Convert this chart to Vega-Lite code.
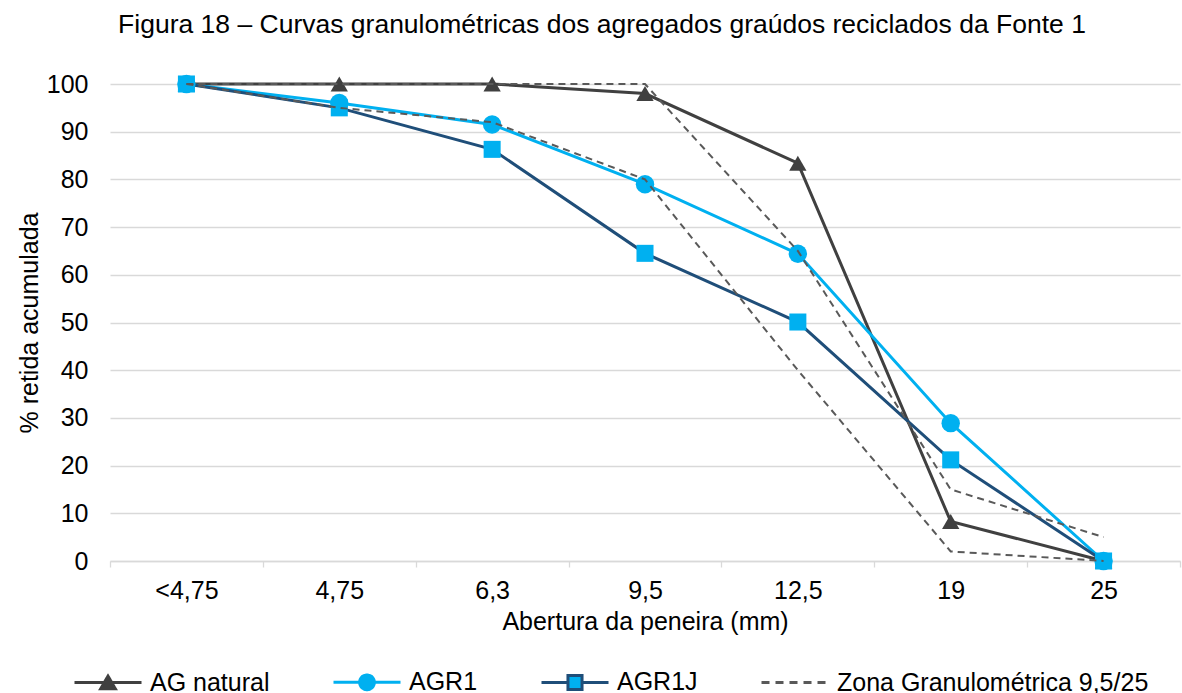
{
  "$schema": "https://vega.github.io/schema/vega-lite/v6.json",
  "width": 1070,
  "height": 477,
  "autosize": {"type": "none"},
  "padding": {"left": 110, "top": 84, "right": 2, "bottom": 132},
  "background": "white",
  "config": {
    "font": "Liberation Sans",
    "view": {"stroke": null},
    "legend": {
      "symbolSize": 4489,
      "symbolStrokeWidth": 3,
      "symbolOpacity": 1,
      "labelFontSize": 25,
      "labelColor": "black",
      "labelOffset": 7,
      "labelLimit": 0,
      "columnPadding": 57,
      "padding": 0
    }
  },
  "title": {
    "text": "Figura 18 – Curvas granulométricas dos agregados graúdos reciclados da Fonte 1",
    "fontSize": 26.5,
    "fontWeight": "normal",
    "color": "black",
    "anchor": "middle",
    "frame": "group",
    "baseline": "alphabetic",
    "dx": -43,
    "offset": 13
  },
  "data": {
    "values": [
      {"serie": "AG natural", "linha": "AG natural", "peneira": "<4,75", "retida": 100},
      {"serie": "AG natural", "linha": "AG natural", "peneira": "4,75", "retida": 100},
      {"serie": "AG natural", "linha": "AG natural", "peneira": "6,3", "retida": 100},
      {"serie": "AG natural", "linha": "AG natural", "peneira": "9,5", "retida": 98},
      {"serie": "AG natural", "linha": "AG natural", "peneira": "12,5", "retida": 83.4},
      {"serie": "AG natural", "linha": "AG natural", "peneira": "19", "retida": 8.3},
      {"serie": "AG natural", "linha": "AG natural", "peneira": "25", "retida": 0},
      {"serie": "AGR1", "linha": "AGR1", "peneira": "<4,75", "retida": 100},
      {"serie": "AGR1", "linha": "AGR1", "peneira": "4,75", "retida": 96},
      {"serie": "AGR1", "linha": "AGR1", "peneira": "6,3", "retida": 91.5},
      {"serie": "AGR1", "linha": "AGR1", "peneira": "9,5", "retida": 79},
      {"serie": "AGR1", "linha": "AGR1", "peneira": "12,5", "retida": 64.4},
      {"serie": "AGR1", "linha": "AGR1", "peneira": "19", "retida": 28.9},
      {"serie": "AGR1", "linha": "AGR1", "peneira": "25", "retida": 0},
      {"serie": "AGR1J", "linha": "AGR1J", "peneira": "<4,75", "retida": 100},
      {"serie": "AGR1J", "linha": "AGR1J", "peneira": "4,75", "retida": 95},
      {"serie": "AGR1J", "linha": "AGR1J", "peneira": "6,3", "retida": 86.3},
      {"serie": "AGR1J", "linha": "AGR1J", "peneira": "9,5", "retida": 64.5},
      {"serie": "AGR1J", "linha": "AGR1J", "peneira": "12,5", "retida": 50.1},
      {"serie": "AGR1J", "linha": "AGR1J", "peneira": "19", "retida": 21.2},
      {"serie": "AGR1J", "linha": "AGR1J", "peneira": "25", "retida": 0},
      {"serie": "Zona Granulométrica 9,5/25", "linha": "superior", "peneira": "<4,75", "retida": 100},
      {"serie": "Zona Granulométrica 9,5/25", "linha": "superior", "peneira": "4,75", "retida": 100},
      {"serie": "Zona Granulométrica 9,5/25", "linha": "superior", "peneira": "6,3", "retida": 100},
      {"serie": "Zona Granulométrica 9,5/25", "linha": "superior", "peneira": "9,5", "retida": 100},
      {"serie": "Zona Granulométrica 9,5/25", "linha": "superior", "peneira": "12,5", "retida": 65},
      {"serie": "Zona Granulométrica 9,5/25", "linha": "superior", "peneira": "19", "retida": 15},
      {"serie": "Zona Granulométrica 9,5/25", "linha": "superior", "peneira": "25", "retida": 5},
      {"serie": "Zona Granulométrica 9,5/25", "linha": "inferior", "peneira": "<4,75", "retida": 100},
      {"serie": "Zona Granulométrica 9,5/25", "linha": "inferior", "peneira": "4,75", "retida": 95},
      {"serie": "Zona Granulométrica 9,5/25", "linha": "inferior", "peneira": "6,3", "retida": 92},
      {"serie": "Zona Granulométrica 9,5/25", "linha": "inferior", "peneira": "9,5", "retida": 80},
      {"serie": "Zona Granulométrica 9,5/25", "linha": "inferior", "peneira": "12,5", "retida": 40},
      {"serie": "Zona Granulométrica 9,5/25", "linha": "inferior", "peneira": "19", "retida": 2},
      {"serie": "Zona Granulométrica 9,5/25", "linha": "inferior", "peneira": "25", "retida": 0}
    ]
  },
  "encoding": {
    "x": {
      "field": "peneira",
      "type": "ordinal",
      "sort": ["<4,75", "4,75", "6,3", "9,5", "12,5", "19", "25"],
      "scale": {"type": "band", "paddingInner": 0, "paddingOuter": 0},
      "axis": {
        "title": "Abertura da peneira (mm)",
        "titleFontSize": 25,
        "titleFontWeight": "normal",
        "titleColor": "black",
        "titlePadding": 6,
        "labelFontSize": 25,
        "labelColor": "black",
        "labelAngle": 0,
        "labelPadding": 11,
        "domainColor": "#d9d9d9",
        "domainWidth": 1.3,
        "tickColor": "#d9d9d9",
        "tickWidth": 1.3,
        "tickSize": 6,
        "tickBand": "extent",
        "grid": false
      }
    },
    "y": {
      "field": "retida",
      "type": "quantitative",
      "scale": {"domain": [0, 100], "nice": false},
      "axis": {
        "title": "% retida acumulada",
        "titleFontSize": 25,
        "titleFontWeight": "normal",
        "titleColor": "black",
        "titlePadding": 4,
        "labelFontSize": 25,
        "labelColor": "black",
        "labelPadding": 22,
        "values": [0, 10, 20, 30, 40, 50, 60, 70, 80, 90, 100],
        "domain": false,
        "ticks": false,
        "gridColor": "#d9d9d9",
        "gridWidth": 1.3
      }
    }
  },
  "layer": [
    {
      "transform": [{"filter": {"field": "serie", "equal": "AG natural"}}],
      "mark": {"type": "line", "strokeWidth": 3, "stroke": "#404040"},
      "encoding": {}
    },
    {
      "transform": [{"filter": {"field": "serie", "equal": "AGR1"}}],
      "mark": {"type": "line", "strokeWidth": 3, "stroke": "#00B0F0"},
      "encoding": {}
    },
    {
      "transform": [{"filter": {"field": "serie", "equal": "AGR1J"}}],
      "mark": {"type": "line", "strokeWidth": 3, "stroke": "#1F4E79"},
      "encoding": {}
    },
    {
      "transform": [{"filter": {"field": "serie", "equal": "AG natural"}}],
      "mark": {"type": "point", "shape": "triangle-up", "filled": true, "fill": "#404040", "opacity": 1, "size": 300, "strokeWidth": 0}
    },
    {
      "transform": [{"filter": {"field": "serie", "equal": "AGR1"}}],
      "mark": {"type": "point", "shape": "circle", "filled": true, "fill": "#00B0F0", "opacity": 1, "size": 340, "strokeWidth": 0}
    },
    {
      "transform": [{"filter": {"field": "serie", "equal": "AGR1J"}}],
      "mark": {"type": "point", "shape": "square", "filled": true, "fill": "#00B0F0", "opacity": 1, "size": 290, "strokeWidth": 0}
    },
    {
      "transform": [{"filter": {"field": "serie", "equal": "Zona Granulométrica 9,5/25"}}],
      "mark": {"type": "line", "strokeWidth": 2, "stroke": "#595959", "strokeDash": [7, 5]},
      "encoding": {"detail": {"field": "linha"}}
    },
    {
      "mark": {"type": "point", "filled": true, "opacity": 0, "size": 1},
      "encoding": {
        "stroke": {
          "field": "serie",
          "type": "nominal",
          "scale": {
            "domain": ["AG natural", "AGR1", "AGR1J", "Zona Granulométrica 9,5/25"],
            "range": ["#404040", "#00B0F0", "#1F4E79", "#595959"]
          },
          "legend": {"orient": "none", "direction": "horizontal", "legendX": -37, "legendY": 563, "title": null}
        },
        "fill": {
          "field": "serie",
          "type": "nominal",
          "scale": {
            "domain": ["AG natural", "AGR1", "AGR1J", "Zona Granulométrica 9,5/25"],
            "range": ["#404040", "#00B0F0", "#00B0F0", "transparent"]
          },
          "legend": {"orient": "none", "direction": "horizontal", "legendX": -37, "legendY": 563, "title": null}
        },
        "shape": {
          "field": "serie",
          "type": "nominal",
          "scale": {
            "domain": ["AG natural", "AGR1", "AGR1J", "Zona Granulométrica 9,5/25"],
            "range": [
              "M-1,0H1M0,-0.19L0.22,0.19H-0.22Z",
              "M-1,0H1M0.22,0A0.22,0.22 0 1 1 -0.22,0A0.22,0.22 0 1 1 0.22,0Z",
              "M-1,0H-0.21M0.21,0H1M-0.21,-0.21H0.21V0.21H-0.21Z",
              "M-1,0H1"
            ]
          },
          "legend": {"orient": "none", "direction": "horizontal", "legendX": -37, "legendY": 563, "title": null}
        },
        "strokeDash": {
          "field": "serie",
          "type": "nominal",
          "scale": {
            "domain": ["AG natural", "AGR1", "AGR1J", "Zona Granulométrica 9,5/25"],
            "range": [[1, 0], [1, 0], [1, 0], [8, 6]]
          },
          "legend": {"orient": "none", "direction": "horizontal", "legendX": -37, "legendY": 563, "title": null}
        }
      }
    }
  ]
}
